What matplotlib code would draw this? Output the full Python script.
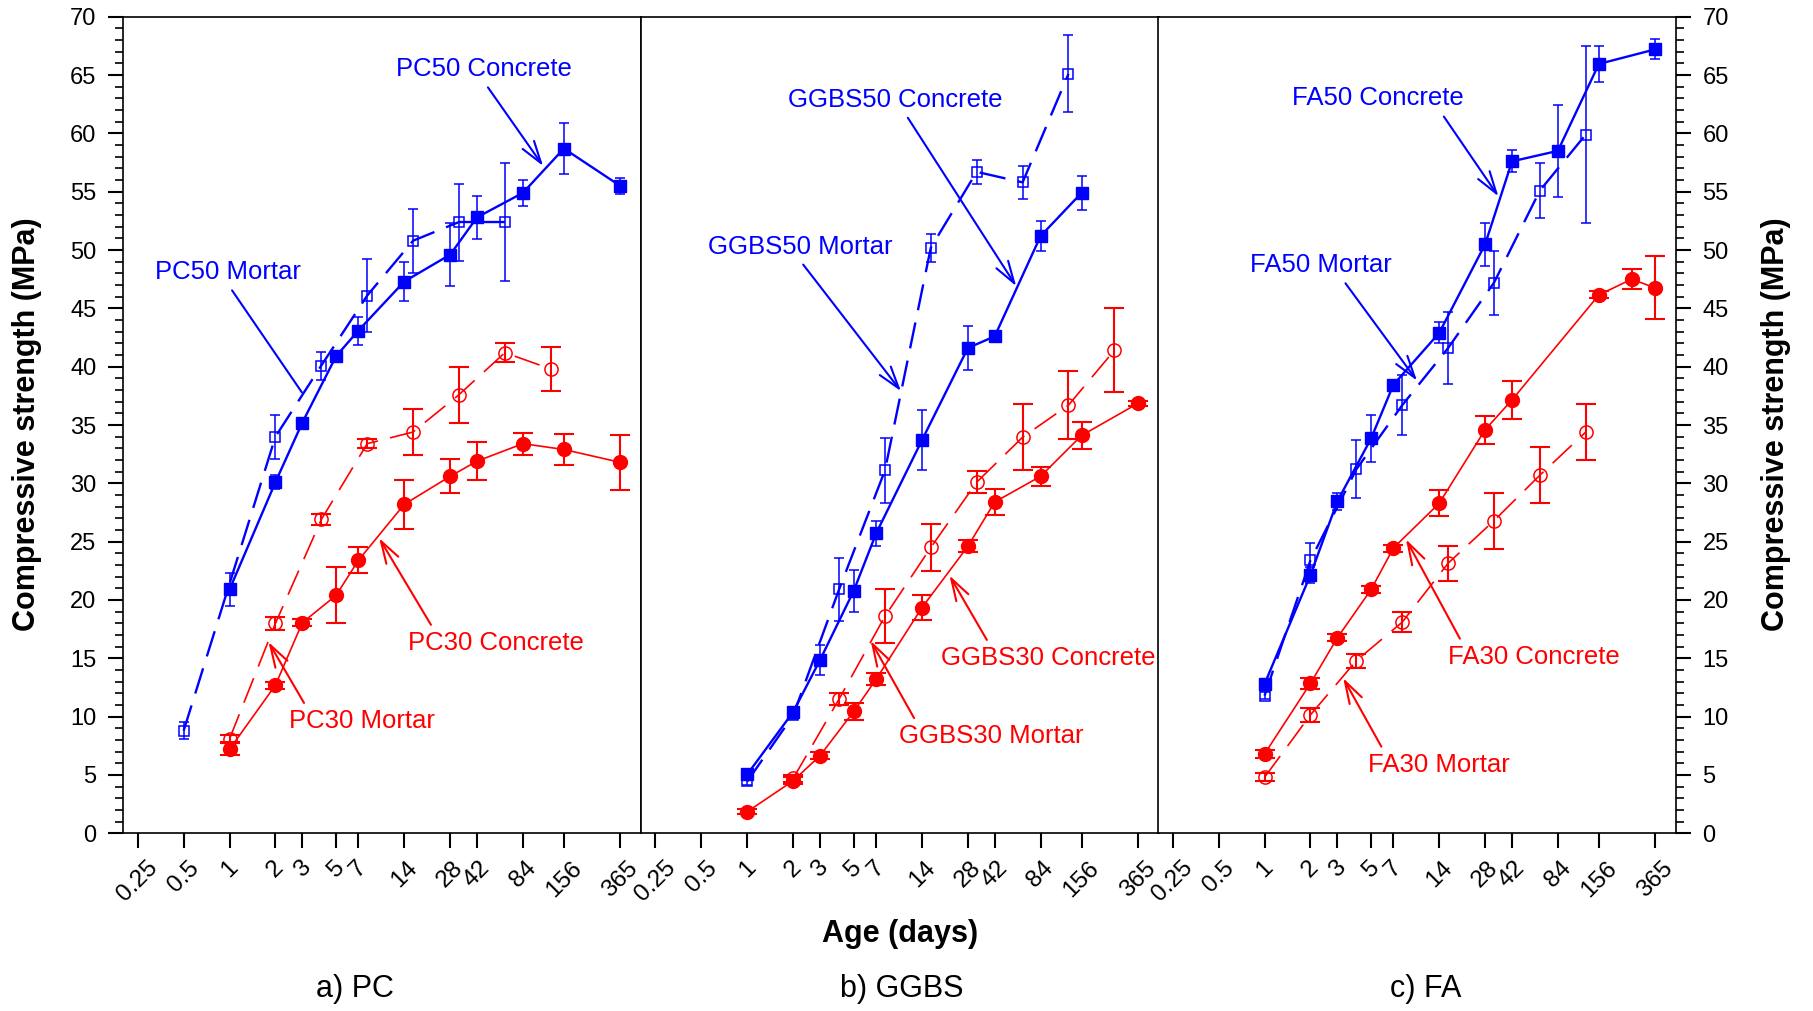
#! /usr/bin/env python
# coding: utf-8
"""Compressive strength development of concrete and mortar (PC, GGBS, FA)."""

import matplotlib
matplotlib.use('Agg')
import matplotlib.pyplot as plt
from matplotlib.ticker import FixedLocator, MultipleLocator, NullLocator

plt.rcParams['font.family'] = ['Liberation Sans', 'DejaVu Sans']
plt.rcParams['lines.scale_dashes'] = False

BLUE = '#0000ff'
RED = '#ff0000'

# x axis ticks (days)
tick_ages = [0.25, 0.5, 1, 2, 3, 5, 7, 14, 28, 42, 84, 156, 365]
tick_labels = ['0.25', '0.5', '1', '2', '3', '5', '7', '14', '28', '42', '84', '156', '365']

# --- a) PC ---
pc50_con_age = [1, 2, 3, 5, 7, 14, 28, 42, 84, 156, 365]
pc50_con_val = [20.9, 30.1, 35.2, 40.9, 43.1, 47.3, 49.6, 52.8, 54.9, 58.7, 55.5]
pc50_con_err = [1.45, 0.6, 0.3, 0.3, 1.2, 1.7, 2.7, 1.85, 1.1, 2.2, 0.67]
pc50_mor_age = [0.5, 2, 4, 8, 16, 32, 64]
pc50_mor_val = [8.8, 34.0, 40.1, 46.1, 50.8, 52.4, 52.4]
pc50_mor_err = [0.7, 1.9, 1.2, 3.1, 2.75, 3.3, 5.05]
pc30_con_age = [1, 2, 3, 5, 7, 14, 28, 42, 84, 156, 365]
pc30_con_val = [7.2, 12.7, 18.05, 20.4, 23.4, 28.2, 30.6, 31.9, 33.4, 32.9, 31.8]
pc30_con_err = [0.5, 0.3, 0.3, 2.4, 1.1, 2.1, 1.45, 1.6, 0.95, 1.3, 2.35]
pc30_mor_age = [1, 2, 4, 8, 16, 32, 64, 128]
pc30_mor_val = [8.1, 18.0, 26.9, 33.4, 34.4, 37.6, 41.2, 39.8]
pc30_mor_err = [0.3, 0.55, 0.5, 0.4, 1.95, 2.4, 0.8, 1.9]

# --- b) GGBS ---
gg50_con_age = [1, 2, 3, 5, 7, 14, 28, 42, 84, 156]
gg50_con_val = [5.05, 10.4, 14.85, 20.8, 25.7, 33.7, 41.6, 42.6, 51.2, 54.9]
gg50_con_err = [0.4, 0.4, 1.3, 1.8, 1.05, 2.6, 1.9, 0.3, 1.3, 1.45]
gg50_mor_age = [1, 2, 4, 8, 16, 32, 64, 128]
gg50_mor_val = [4.45, 10.1, 20.9, 31.1, 50.2, 56.7, 55.8, 65.1]
gg50_mor_err = [0.3, 0.3, 2.7, 2.75, 1.2, 1.05, 1.4, 3.3]
gg30_con_age = [1, 2, 3, 5, 7, 14, 28, 42, 84, 156, 365]
gg30_con_val = [1.85, 4.5, 6.65, 10.45, 13.2, 19.35, 24.6, 28.4, 30.6, 34.1, 36.85]
gg30_con_err = [0.2, 0.3, 0.3, 0.7, 0.5, 1.1, 0.5, 1.15, 0.8, 1.15, 0.25]
gg30_mor_age = [2, 4, 8, 16, 32, 64, 128, 256]
gg30_mor_val = [4.7, 11.5, 18.6, 24.5, 30.1, 33.95, 36.7, 41.4]
gg30_mor_err = [0.3, 0.5, 2.3, 2.0, 0.95, 2.85, 2.9, 3.6]

# --- c) FA ---
fa50_con_age = [1, 2, 3, 5, 7, 14, 28, 42, 84, 156, 365]
fa50_con_val = [12.8, 22.15, 28.45, 33.85, 38.45, 42.9, 50.5, 57.6, 58.5, 65.95, 67.2]
fa50_con_err = [0.3, 0.7, 0.7, 2.05, 0.3, 0.9, 1.85, 0.95, 3.95, 1.55, 0.85]
fa50_mor_age = [1, 2, 4, 8, 16, 32, 64, 128]
fa50_mor_val = [11.8, 23.4, 31.2, 36.7, 41.6, 47.2, 55.1, 59.9]
fa50_mor_err = [0.3, 1.5, 2.5, 2.55, 3.1, 2.75, 2.35, 7.55]
fa30_con_age = [1, 2, 3, 5, 7, 14, 28, 42, 156, 256, 365]
fa30_con_val = [6.8, 12.85, 16.75, 20.9, 24.45, 28.3, 34.6, 37.15, 46.15, 47.5, 46.75]
fa30_con_err = [0.35, 0.5, 0.3, 0.3, 0.3, 1.1, 1.2, 1.6, 0.3, 0.85, 2.7]
fa30_mor_age = [1, 2, 4, 8, 16, 32, 64, 128]
fa30_mor_val = [4.8, 10.15, 14.8, 18.1, 23.15, 26.8, 30.7, 34.4]
fa30_mor_err = [0.35, 0.6, 0.6, 0.85, 1.5, 2.4, 2.4, 2.4]

panel_titles = ['a) PC', 'b) GGBS', 'c) FA']

# (age, value, err, colour, concrete?)
panels = [
    [(pc50_con_age, pc50_con_val, pc50_con_err, BLUE, True),
     (pc50_mor_age, pc50_mor_val, pc50_mor_err, BLUE, False),
     (pc30_con_age, pc30_con_val, pc30_con_err, RED, True),
     (pc30_mor_age, pc30_mor_val, pc30_mor_err, RED, False)],
    [(gg50_con_age, gg50_con_val, gg50_con_err, BLUE, True),
     (gg50_mor_age, gg50_mor_val, gg50_mor_err, BLUE, False),
     (gg30_con_age, gg30_con_val, gg30_con_err, RED, True),
     (gg30_mor_age, gg30_mor_val, gg30_mor_err, RED, False)],
    [(fa50_con_age, fa50_con_val, fa50_con_err, BLUE, True),
     (fa50_mor_age, fa50_mor_val, fa50_mor_err, BLUE, False),
     (fa30_con_age, fa30_con_val, fa30_con_err, RED, True),
     (fa30_mor_age, fa30_mor_val, fa30_mor_err, RED, False)],
]

# label, colour, text pos, arrow tip, relpos, arrowhead
notes = [
    [('PC50 Concrete', BLUE, (46.4, 65.5), (114, 57.2), (0.5, 0), True),
     ('PC50 Mortar', BLUE, (0.974, 48.1), (2.98, 37.8), (0.5, 0), False),
     ('PC30 Concrete', RED, (56.2, 16.3), (9.58, 25.3), (0.15, 1), True),
     ('PC30 Mortar', RED, (7.36, 9.6), (1.80, 16.4), (0.13, 1), True)],
    [('GGBS50 Concrete', BLUE, (9.35, 62.9), (58.1, 46.9), (0.54, 0), True),
     ('GGBS50 Mortar', BLUE, (2.23, 50.3), (10.2, 37.9), (0.49, 0), True),
     ('GGBS30 Concrete', RED, (94.6, 15.0), (21.2, 22.1), (0.23, 1), True),
     ('GGBS30 Mortar', RED, (40.0, 8.3), (6.45, 16.5), (0.10, 1), True)],
    [('FA50 Concrete', BLUE, (5.53, 63.0), (34.2, 54.6), (0.86, 0), True),
     ('FA50 Mortar', BLUE, (2.35, 48.7), (10.0, 38.8), (0.64, 0), True),
     ('FA30 Concrete', RED, (58.4, 15.1), (8.47, 25.2), (0.09, 1), True),
     ('FA30 Mortar', RED, (13.9, 5.85), (3.28, 13.3), (0.12, 1), True)],
]

W, H = 1813, 1011
fig = plt.figure(figsize=(W / 100, H / 100), dpi=100)

lefts = [123, 640.7, 1158]
pw = 518
top, bottom = 16.7, 833.3
caption_x = [355, 902, 1426]


def draw_series(ax, age, val, err, color, concrete):
    """Error bars, line and markers for one series."""
    red = color == RED
    elw = 1.5 if red else 1.1
    cap = 7 if red else 3.6
    ax.errorbar(age, val, yerr=err, fmt='none', ecolor=color, elinewidth=elw,
                capsize=cap, capthick=elw, zorder=2)
    lw = 1.2 if red else 1.7
    marker = 'o' if red else 's'
    if concrete:
        ms = 10 if red else 8.5
        ax.plot(age, val, color=color, lw=lw, ls='-', marker=marker, ms=ms,
                mfc=color, mec=color, mew=1, zorder=3)
    else:
        ms = 9.5 if red else 7.5
        ax.plot(age, val, color=color, lw=lw, ls=(0, (19, 9)), marker=marker, ms=ms,
                mfc='none', mec=color, mew=1.1, zorder=3)


axes = []
for i in range(3):
    ax = fig.add_axes([lefts[i] / W, 1 - bottom / H, pw / W, (bottom - top) / H])
    axes.append(ax)
    ax.set_xscale('log', base=2)
    ax.set_xlim(0.2, 500)
    ax.set_ylim(0, 70)
    for spine in ax.spines.values():
        spine.set_linewidth(1.2)

    for age, val, err, color, concrete in panels[i]:
        draw_series(ax, age, val, err, color, concrete)

    for label, color, txy, tip, rel, head in notes[i]:
        style = '->,head_length=0.8,head_width=0.25' if head else '-'
        ax.annotate(label, xy=tip, xytext=txy, color=color, fontsize=18.5,
                    ha='center', va='center', annotation_clip=False,
                    arrowprops=dict(arrowstyle=style, color=color, lw=1.5,
                                    relpos=rel, shrinkA=3, shrinkB=0,
                                    mutation_scale=20))

    ax.xaxis.set_major_locator(FixedLocator(tick_ages))
    ax.xaxis.set_minor_locator(NullLocator())
    ax.set_xticklabels(tick_labels)
    ax.tick_params(axis='x', which='major', direction='out', length=11,
                   width=1.5, labelsize=17.5, pad=6)
    for lab in ax.get_xticklabels():
        lab.set_rotation(45)
        lab.set_ha('center')
        lab.set_va('top')

    ax.yaxis.set_major_locator(MultipleLocator(5))
    ax.yaxis.set_minor_locator(MultipleLocator(1))
    ax.tick_params(axis='y', which='major', direction='out', length=11,
                   width=1.5, labelsize=17, pad=8)
    ax.tick_params(axis='y', which='minor', direction='out', length=5.5, width=1.2)
    if i == 1:
        ax.tick_params(axis='y', which='both', left=False, labelleft=False)
    elif i == 2:
        ax.yaxis.tick_right()
        ax.tick_params(axis='y', which='both', right=True, labelright=True)

    fig.text(caption_x[i] / W, 1 - 988.6 / H, panel_titles[i], fontsize=22,
             ha='center', va='center')

fig.text(900 / W, 1 - 934 / H, 'Age (days)', fontsize=22, fontweight='bold',
         ha='center', va='center')
for x in (27, 1776):
    fig.text(x / W, 1 - 424 / H, 'Compressive strength (MPa)', fontsize=22,
             fontweight='bold', rotation=90, ha='center', va='center')

fig.savefig('out.png', dpi=100)
